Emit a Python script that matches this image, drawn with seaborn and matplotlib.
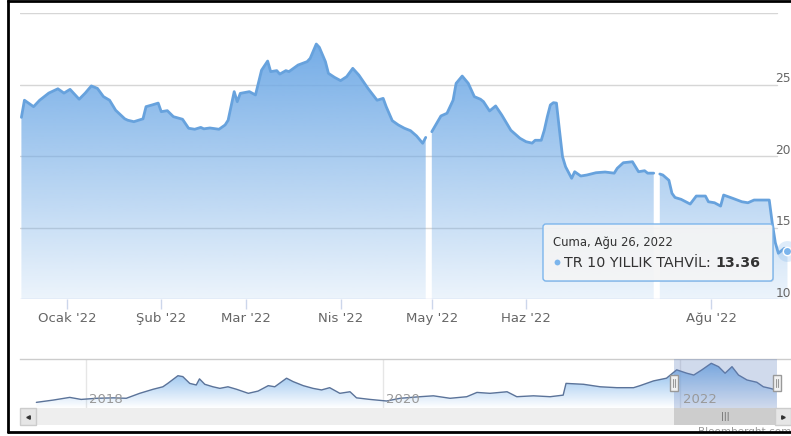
import matplotlib
matplotlib.use("Agg")
import matplotlib.pyplot as plt
import matplotlib.dates as mdates
import matplotlib.transforms as mtransforms
from matplotlib.patches import Rectangle, FancyBboxPatch
from matplotlib.lines import Line2D
from matplotlib.path import Path
from matplotlib.text import Annotation
import numpy as np
import pandas as pd
import seaborn as sns

# TR 10Y yield (NaN = holiday gap in the series)
dates = ["2021-12-17", "2021-12-18", "2021-12-21", "2021-12-23", "2021-12-26", "2021-12-29", "2021-12-31",
         "2022-01-02", "2022-01-05", "2022-01-07", "2022-01-09", "2022-01-11", "2022-01-13", "2022-01-15",
         "2022-01-17", "2022-01-20", "2022-01-21", "2022-01-23", "2022-01-26", "2022-01-27", "2022-01-29",
         "2022-01-31", "2022-02-01", "2022-02-03", "2022-02-05", "2022-02-08", "2022-02-10", "2022-02-12",
         "2022-02-14", "2022-02-15", "2022-02-17", "2022-02-20", "2022-02-22", "2022-02-23", "2022-02-25",
         "2022-02-26", "2022-02-27", "2022-03-02", "2022-03-04", "2022-03-06", "2022-03-08", "2022-03-09",
         "2022-03-11", "2022-03-12", "2022-03-14", "2022-03-15", "2022-03-18", "2022-03-21", "2022-03-22",
         "2022-03-24", "2022-03-25", "2022-03-27", "2022-03-28", "2022-03-30", "2022-04-01", "2022-04-03",
         "2022-04-05", "2022-04-07", "2022-04-10", "2022-04-13", "2022-04-15", "2022-04-16", "2022-04-18",
         "2022-04-20", "2022-04-22", "2022-04-24", "2022-04-26", "2022-04-28", "2022-04-29", "2022-04-30",
         "2022-05-01", "2022-05-04", "2022-05-06", "2022-05-08", "2022-05-09", "2022-05-11", "2022-05-13",
         "2022-05-15", "2022-05-17", "2022-05-18", "2022-05-20", "2022-05-22", "2022-05-24", "2022-05-27",
         "2022-05-30", "2022-06-01", "2022-06-03", "2022-06-04", "2022-06-06", "2022-06-07", "2022-06-08",
         "2022-06-09", "2022-06-10", "2022-06-11", "2022-06-12", "2022-06-13", "2022-06-14", "2022-06-16",
         "2022-06-17", "2022-06-19", "2022-06-21", "2022-06-24", "2022-06-27", "2022-06-30", "2022-07-01",
         "2022-07-03", "2022-07-06", "2022-07-08", "2022-07-10", "2022-07-11", "2022-07-13", "2022-07-14",
         "2022-07-15", "2022-07-16", "2022-07-18", "2022-07-19", "2022-07-20", "2022-07-22", "2022-07-25",
         "2022-07-27", "2022-07-30", "2022-07-31", "2022-08-02", "2022-08-04", "2022-08-05", "2022-08-08",
         "2022-08-11", "2022-08-13", "2022-08-15", "2022-08-19", "2022-08-20", "2022-08-21", "2022-08-22",
         "2022-08-23", "2022-08-25", "2022-08-26"]
yields = [22.7, 23.9, 23.45, 23.9, 24.4, 24.7, 24.4,
          24.66, 23.97, 24.4, 24.9, 24.73, 24.15, 23.9,
          23.2, 22.6, 22.5, 22.4, 22.6, 23.45, 23.57,
          23.7, 23.1, 23.17, 22.75, 22.57, 21.94, 21.87,
          22.0, 21.9, 21.96, 21.87, 22.17, 22.5, 24.5,
          23.8, 24.38, 24.5, 24.27, 26.0, 26.64, 25.9,
          25.97, 25.73, 25.97, 25.9, 26.36, 26.6, 26.83,
          27.83, 27.6, 26.6, 25.78, 25.5, 25.27, 25.55,
          26.13, 25.66, 24.73, 23.9, 24.03, 23.45, 22.47,
          22.17, 21.94, 21.77, 21.4, 20.89, 21.3, np.nan,
          21.7, 22.8, 22.99, 23.9, 25.08, 25.59, 25.08,
          24.15, 23.97, 23.8, 23.15, 23.5, 22.87, 21.8,
          21.24, 21.0, 20.9, 21.1, 21.1, 21.8, 22.75,
          23.57, 23.73, 23.7, 21.8, 19.95, 19.25, 18.44,
          18.9, 18.6, 18.67, 18.83, 18.88, 18.8, 19.14,
          19.53, 19.6, 18.9, 18.97, 18.8, 18.8, np.nan,
          18.74, 18.67, 18.3, 17.39, 17.1, 16.97, 16.64,
          17.2, 17.2, 16.8, 16.73, 16.5, 17.27, 17.04,
          16.8, 16.73, 16.92, 16.92, 16.92, 15.3, 13.94,
          13.2, 13.55, 13.36]

# navigator series 2017-2022 (coarse readings)
nav_dates = ["2017-09-01", "2017-10-12", "2017-11-22", "2017-12-20", "2018-01-27", "2018-03-09", "2018-04-10",
             "2018-05-13", "2018-06-15", "2018-07-09", "2018-07-21", "2018-08-15", "2018-08-27", "2018-09-13",
             "2018-09-29", "2018-10-07", "2018-10-20", "2018-11-09", "2018-11-26", "2018-12-16", "2019-01-06",
             "2019-02-04", "2019-02-28", "2019-03-25", "2019-04-10", "2019-05-09", "2019-05-25", "2019-06-19",
             "2019-07-13", "2019-08-03", "2019-08-23", "2019-09-17", "2019-10-12", "2019-10-28", "2019-11-30",
             "2020-01-10", "2020-02-12", "2020-04-01", "2020-05-04", "2020-06-14", "2020-07-25", "2020-08-19",
             "2020-09-20", "2020-11-01", "2020-11-25", "2021-01-05", "2021-02-15", "2021-03-19", "2021-03-26",
             "2021-05-08", "2021-06-18", "2021-07-29", "2021-09-08", "2021-09-24", "2021-10-27", "2021-11-28",
             "2021-12-23", "2022-01-17", "2022-02-03", "2022-02-23", "2022-03-18", "2022-04-05", "2022-04-21",
             "2022-05-08", "2022-05-24", "2022-06-14", "2022-07-08", "2022-07-24", "2022-08-10", "2022-08-26"]
nav_yields = [10.5, 11.5, 12.7, 11.8, 12.3, 12.5, 12.3,
              14.5, 16.3, 17.4, 18.9, 22.3, 21.9, 18.9,
              18.2, 20.9, 18.5, 17.4, 16.7, 17.4, 16.3,
              14.5, 15.5, 17.9, 17.4, 21.2, 19.7, 17.9,
              16.7, 16.0, 17.0, 14.5, 15.2, 12.5, 11.8,
              11.1, 12.3, 13.0, 13.4, 12.3, 13.0, 14.9,
              14.5, 15.2, 13.0, 13.4, 13.0, 13.7, 18.9,
              18.5, 17.4, 17.0, 17.0, 17.9, 20.0, 21.2,
              24.9, 23.4, 22.6, 24.9, 27.8, 26.3, 23.4,
              26.3, 22.6, 20.4, 19.4, 17.4, 16.7, 15.9]

month_ticks = ["2022-01-01", "2022-02-01", "2022-03-01", "2022-04-01", "2022-05-01", "2022-06-01", "2022-08-01"]
month_labels = ["Ocak '22", "Şub '22", "Mar '22", "Nis '22", "May '22", "Haz '22", "Ağu '22"]
y_grid = [10, 15, 20, 25, 30]
y_labels = ["10", "15", "20", "25"]
year_ticks = ["2018-01-01", "2020-01-01", "2022-01-01"]
year_labels = ["2018", "2020", "2022"]
tooltip_head = "Cuma, Ağu 26, 2022"
series_name = "TR 10 YILLIK TAHVİL"

sns.set_theme(style="white")
plt.rcParams["font.family"] = ["DejaVu Sans"]

W, H = 791, 436
BLUE = np.array([124, 181, 236]) / 255
LABEL = "#666666"
fig = plt.figure(figsize=(W / 100, H / 100), dpi=100)
PX = mtransforms.IdentityTransform()


def box(x0, y0, x1, y1):
    # pixel box, origin top-left -> figure fraction rect
    return [x0 / W, 1 - y1 / H, (x1 - x0) / W, (y1 - y0) / H]


ax = fig.add_axes(box(20, 13, 800, 299))
nav = fig.add_axes(box(20, 359, 800, 408))
scr = fig.add_axes(box(20, 408, 800, 425))

df = pd.DataFrame({"date": pd.to_datetime(dates), "y": yields})
df["seg"] = df["y"].isna().cumsum()

# main chart
x0 = pd.Timestamp("2022-01-01") - pd.Timedelta(days=47 / 3.04)
x1 = x0 + pd.Timedelta(days=780 / 3.04)
xn0, xn1 = mdates.date2num(x0), mdates.date2num(x1)

for v in y_grid:
    ax.axhline(v, xmin=0, xmax=(777 - 20) / 780, color="#ccd6eb" if v == 10 else "#d6d6d6",
               lw=1, zorder=1)

fb = ax.fill_between(df["date"], df["y"], 10, color="none", lw=0)
clip = Path.make_compound_path(*fb.get_paths())
grad = np.zeros((256, 1, 4))
grad[..., :3] = np.array([112, 170, 230]) / 255
grad[..., 3] = np.linspace(1.0, 0.13, 256)[:, None]
im = ax.imshow(grad, extent=[xn0, xn1, 10, 28.5], aspect="auto", origin="upper",
               interpolation="bilinear", zorder=2)
im.set_clip_path(clip, transform=ax.transData)

sns.lineplot(data=df.dropna(), x="date", y="y", units="seg", estimator=None,
             color="#67a2dd", lw=2.0, ax=ax, legend=False, zorder=3)

last_d, last_y = df["date"].iloc[-1], df["y"].iloc[-1]
ax.plot([last_d], [last_y], "o", ms=15, color=BLUE, alpha=0.25, mew=0, clip_on=False, zorder=4)
ax.plot([last_d], [last_y], "o", ms=6, mfc="#7cb5ec", mec="white", mew=1, clip_on=False, zorder=5)

ax.set_xlim(x0, x1)
ax.set_ylim(10, 30)
ax.set_yticks([])
ax.set_xticks(pd.to_datetime(month_ticks))
ax.set_xticklabels(month_labels)
ax.tick_params(axis="x", bottom=True, length=7.2, width=1, color="#ccd6eb", pad=2.5,
               labelsize=9.5, labelcolor=LABEL)
ax.set_xlabel("")
ax.set_ylabel("")
for s in ax.spines.values():
    s.set_visible(False)
ax.patch.set_visible(False)

for lab in y_labels:
    ax.annotate(lab, xy=(775.5 / W, float(lab)), xycoords=("figure fraction", "data"),
                xytext=(0, 1.6), textcoords="offset points", ha="left", va="baseline",
                fontsize=8.8, color=LABEL, annotation_clip=False)

# navigator
ndf = pd.DataFrame({"date": pd.to_datetime(nav_dates), "y": nav_yields})
n0 = pd.Timestamp("2018-01-01") - pd.Timedelta(days=66 / 0.4068)
n1 = n0 + pd.Timedelta(days=780 / 0.4068)
for d in year_ticks:
    nav.axvline(pd.Timestamp(d), color="#e6e6e6", lw=1, zorder=0)
nfb = nav.fill_between(ndf["date"], ndf["y"], 8, color="none", lw=0)
ngrad = np.zeros((256, 1, 4))
ngrad[..., :3] = np.array([118, 176, 234]) / 255
ngrad[..., 3] = np.linspace(0.95, 0.0, 256)[:, None]
nim = nav.imshow(ngrad, extent=[mdates.date2num(n0), mdates.date2num(n1), 8, 28], aspect="auto",
                 origin="upper", interpolation="bilinear", zorder=1)
nim.set_clip_path(Path.make_compound_path(*nfb.get_paths()), transform=nav.transData)
sns.lineplot(data=ndf, x="date", y="y", color="#5b7399", lw=1, ax=nav, legend=False, zorder=2)
sel0, sel1 = df["date"].iloc[0], df["date"].iloc[-1]
nav.axvspan(sel0, sel1, color=(102 / 255, 133 / 255, 194 / 255), alpha=0.3, lw=0, zorder=3)
for d, lab in zip(year_ticks, year_labels):
    nav.annotate(lab, xy=(pd.Timestamp(d), 0.18), xycoords=("data", "axes fraction"),
                 xytext=(2.2, 0), textcoords="offset points", ha="left", va="center",
                 fontsize=9.5, color="#999999", zorder=4)
nav.set_xlim(n0, n1)
nav.set_ylim(8, 29.7)
nav.set_xticks([])
nav.set_yticks([])
nav.set_xlabel("")
nav.set_ylabel("")
for k, s in nav.spines.items():
    s.set_visible(k == "top")
nav.spines["top"].set_color("#cccccc")
nav.spines["top"].set_linewidth(1)

# scrollbar
scr.set_xlim(n0, n1)
scr.set_ylim(0, 1)
scr.set_facecolor("#eeeeee")
scr.axvspan(sel0, sel1, color="#cdcdcd", lw=0)
mid = sel0 + (sel1 - sel0) / 2
scr.text(mid, 0.5, "|||", ha="center", va="center", fontsize=6, color="#666666")
scr.set_xticks([])
scr.set_yticks([])
for s in scr.spines.values():
    s.set_visible(False)

# navigator handles, placed through the navigator's x scale
for d in (sel0, sel1):
    px = nav.transData.transform((mdates.date2num(d), 0))[0]
    fig.add_artist(Rectangle((px - 4, H - 391), 8, 16, transform=PX, fc="#f2f2f2", ec="#999999",
                             lw=1, zorder=5))
    for dx in (-1.2, 1.2):
        fig.add_artist(Line2D([px + dx, px + dx], [H - 387, H - 379], transform=PX,
                              color="#999999", lw=0.8, zorder=6))

# scrollbar buttons
for bx, mk in ((20, "<"), (775, ">")):
    fig.add_artist(Rectangle((bx, H - 425), 16, 17, transform=PX, fc="#e6e6e6", ec="#cccccc",
                             lw=1, zorder=5))
    fig.add_artist(Line2D([bx + 8], [H - 416.5], transform=PX, marker=mk, ms=2.5,
                          color="#333333", zorder=6))

# tooltip
fig.add_artist(FancyBboxPatch((544, H - 282), 230, 57, boxstyle="round,pad=0,rounding_size=3",
                              transform=PX, fc=(0, 0, 0, 0.08), ec="none", zorder=7))
fig.add_artist(FancyBboxPatch((543, H - 281), 230, 57, boxstyle="round,pad=0,rounding_size=3",
                              transform=PX, fc=(0.97, 0.97, 0.97, 0.9), ec="#7cb5ec", lw=1, zorder=8))
fig.text(553, H - 242, tooltip_head, transform=PX, ha="left", va="center", fontsize=8.4,
         color="#333333", zorder=9)
fig.add_artist(Line2D([557], [H - 262], transform=PX, marker="o", ms=4.2, mew=0,
                      color="#7cb5ec", zorder=9))
t = fig.text(564, H - 267, series_name + ": ", transform=PX, ha="left", va="baseline",
             fontsize=10.3, color="#333333", zorder=9)
val = Annotation(f"{last_y:.2f}", xy=(1, 0), xycoords=t, ha="left", va="bottom", fontsize=10.3,
                 fontweight="bold", color="#333333", annotation_clip=False)
val.set_zorder(9)
fig.add_artist(val)

# credits + outer frame
fig.text(698, H - 427, "Bloomberght.com", transform=PX, ha="left", va="top", fontsize=7.5,
         color="#999999", zorder=9)
fig.add_artist(Rectangle((0, 0), W, H - 432, transform=PX, fc="white", ec="none", zorder=10))
fig.add_artist(Line2D([8, W], [H - 432, H - 432], transform=PX, color="black", lw=2, zorder=11))
fig.add_artist(Line2D([8, W], [H - 0.5, H - 0.5], transform=PX, color="black", lw=2, zorder=11))
fig.add_artist(Line2D([8, 8], [H, H - 432], transform=PX, color="black", lw=2, zorder=11))

fig.savefig("out.png", dpi=100)
